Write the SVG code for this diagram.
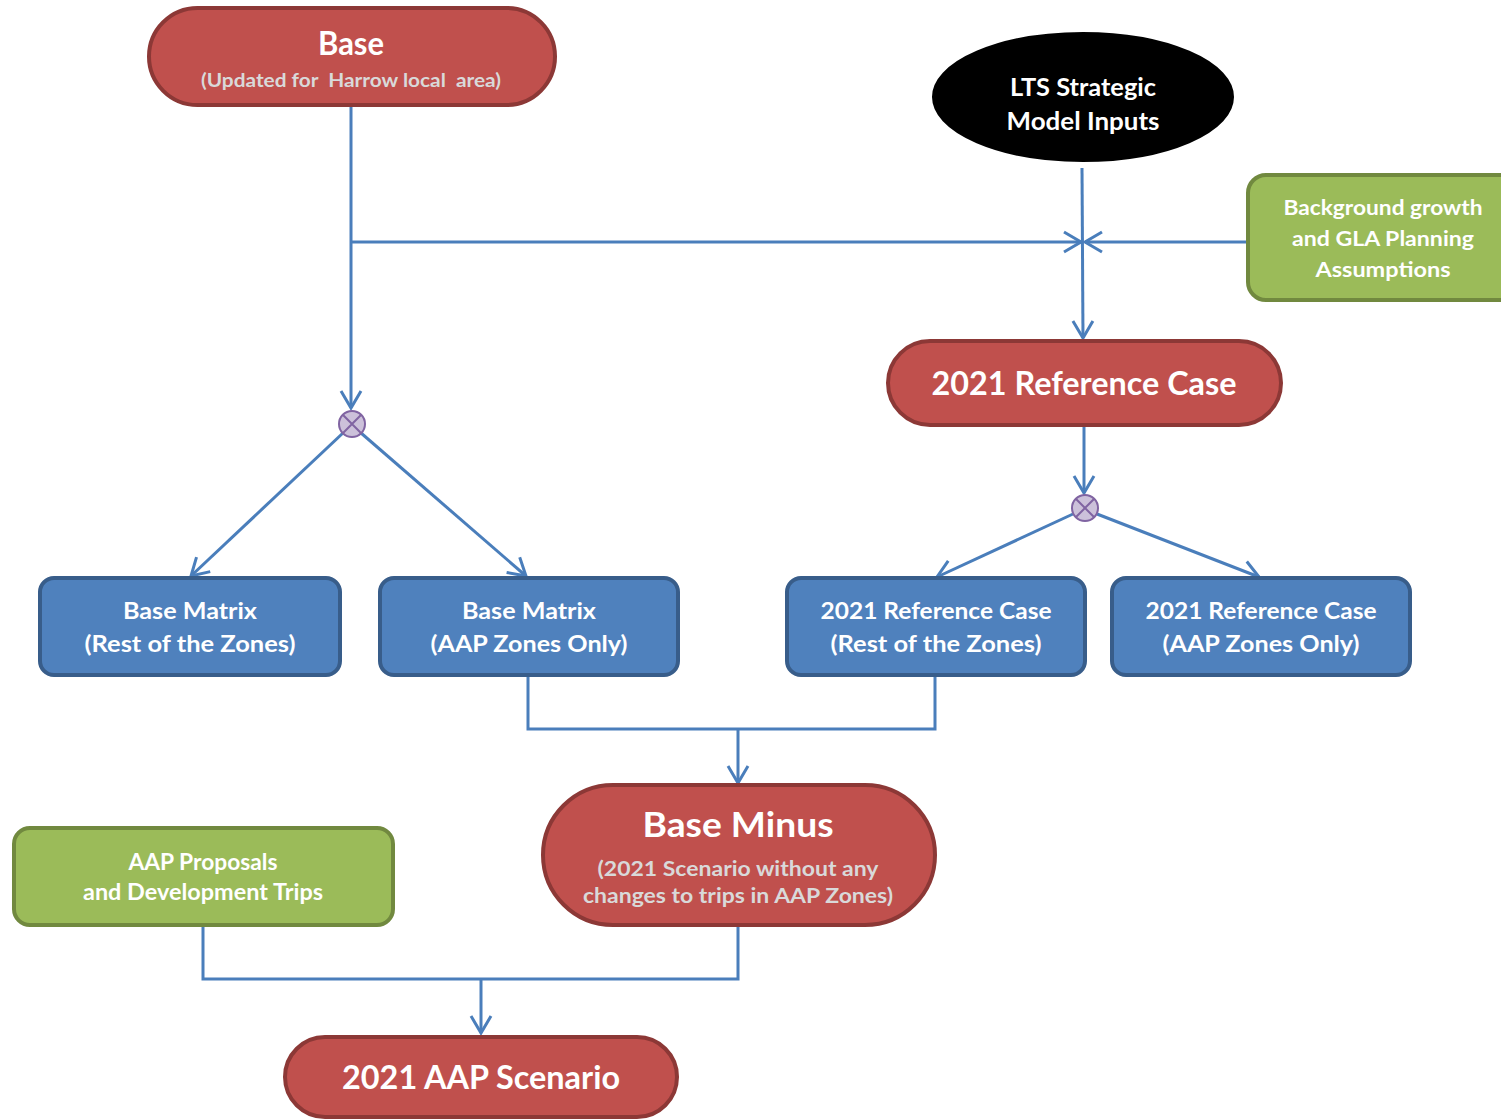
<svg xmlns="http://www.w3.org/2000/svg" width="1501" height="1119" viewBox="0 0 1501 1119">
<defs>
<marker id="arr" markerUnits="userSpaceOnUse" viewBox="-20 -12 22 24" refX="0" refY="0" markerWidth="22" markerHeight="24" orient="auto" overflow="visible">
<path d="M-17,-10 L0,0 L-17,10" fill="none" stroke="#4a7ebb" stroke-width="3" stroke-linejoin="miter"/>
</marker>
<style>
.red{fill:#c0504d;stroke:#8c3836;stroke-width:4}
.blue{fill:#4f81bd;stroke:#385d8a;stroke-width:4}
.green{fill:#9bbb59;stroke:#71893f;stroke-width:4}
.blk{fill:#000;stroke:#000;stroke-width:2}
.circ{fill:#ccc1da;stroke:#8064a2;stroke-width:2}
.x{stroke:#8064a2;stroke-width:2}
.c{fill:none;stroke:#4a7ebb;stroke-width:3}
text{font-family:Lato,"Open Sans","Liberation Sans",sans-serif;font-weight:bold;text-anchor:middle;fill:#fff}
.sub{fill:#d9d9d9}
</style>
</defs>
<g id="connectors">
<path class="c" d="M351 107 V408" marker-end="url(#arr)"/>
<path class="c" d="M351 242 H1081" marker-end="url(#arr)"/>
<path class="c" d="M1082 168 L1083 338" marker-end="url(#arr)"/>
<path class="c" d="M1247 242 H1085" marker-end="url(#arr)"/>
<path class="c" d="M1084 427 V493" marker-end="url(#arr)"/>
<path class="c" d="M343 433 L191 576" marker-end="url(#arr)"/>
<path class="c" d="M361 433 L526 576" marker-end="url(#arr)"/>
<path class="c" d="M1073 514 L937 577" marker-end="url(#arr)"/>
<path class="c" d="M1097 514 L1259 577" marker-end="url(#arr)"/>
<path class="c" d="M528 676 V729 H935 V676"/>
<path class="c" d="M738 729 V783" marker-end="url(#arr)"/>
<path class="c" d="M203 926 V979 H738 V927"/>
<path class="c" d="M481 979 V1033" marker-end="url(#arr)"/>
</g>
<g id="base">
<rect class="red" x="149" y="8" width="406" height="97" rx="48.5"/>
<text x="351" y="55" font-size="32" textLength="66" lengthAdjust="spacingAndGlyphs">Base</text>
<text class="sub" x="351" y="87" font-size="18.5" textLength="300" lengthAdjust="spacingAndGlyphs" style="white-space:pre">(Updated for  Harrow local  area)</text>
</g>
<g id="lts">
<ellipse class="blk" cx="1083" cy="97" rx="150" ry="64"/>
<text x="1083" y="96" font-size="25" textLength="146" lengthAdjust="spacingAndGlyphs">LTS Strategic</text>
<text x="1083" y="130" font-size="25" textLength="153" lengthAdjust="spacingAndGlyphs">Model Inputs</text>
</g>
<g id="background">
<rect class="green" x="1248" y="175" width="280" height="125" rx="18"/>
<text x="1383" y="215" font-size="21" textLength="199" lengthAdjust="spacingAndGlyphs">Background growth</text>
<text x="1383" y="246" font-size="21" textLength="182" lengthAdjust="spacingAndGlyphs">and GLA Planning</text>
<text x="1383" y="277" font-size="21" textLength="135" lengthAdjust="spacingAndGlyphs">Assumptions</text>
</g>
<g id="refcase">
<rect class="red" x="888" y="341" width="393" height="84" rx="42"/>
<text x="1084" y="395" font-size="32" textLength="305" lengthAdjust="spacingAndGlyphs">2021 Reference Case</text>
</g>
<g id="split1">
<circle class="circ" cx="352" cy="424" r="13"/>
<path class="x" d="M342.8 414.8 L361.2 433.2 M361.2 414.8 L342.8 433.2"/>
</g>
<g id="split2">
<circle class="circ" cx="1085" cy="508" r="13"/>
<path class="x" d="M1075.8 498.8 L1094.2 517.2 M1094.2 498.8 L1075.8 517.2"/>
</g>
<g id="bm-rest">
<rect class="blue" x="40" y="578" width="300" height="97" rx="14"/>
<text x="190" y="619" font-size="23" textLength="134" lengthAdjust="spacingAndGlyphs">Base Matrix</text>
<text x="190" y="652" font-size="23" textLength="211" lengthAdjust="spacingAndGlyphs">(Rest of the Zones)</text>
</g>
<g id="bm-aap">
<rect class="blue" x="380" y="578" width="298" height="97" rx="14"/>
<text x="529" y="619" font-size="23" textLength="134" lengthAdjust="spacingAndGlyphs">Base Matrix</text>
<text x="529" y="652" font-size="23" textLength="197" lengthAdjust="spacingAndGlyphs">(AAP Zones Only)</text>
</g>
<g id="rc-rest">
<rect class="blue" x="787" y="578" width="298" height="97" rx="14"/>
<text x="936" y="619" font-size="23" textLength="231" lengthAdjust="spacingAndGlyphs">2021 Reference Case</text>
<text x="936" y="652" font-size="23" textLength="211" lengthAdjust="spacingAndGlyphs">(Rest of the Zones)</text>
</g>
<g id="rc-aap">
<rect class="blue" x="1112" y="578" width="298" height="97" rx="14"/>
<text x="1261" y="619" font-size="23" textLength="231" lengthAdjust="spacingAndGlyphs">2021 Reference Case</text>
<text x="1261" y="652" font-size="23" textLength="197" lengthAdjust="spacingAndGlyphs">(AAP Zones Only)</text>
</g>
<g id="baseminus">
<rect class="red" x="543" y="785" width="392" height="140" rx="70"/>
<text x="738" y="837" font-size="34" textLength="191" lengthAdjust="spacingAndGlyphs">Base Minus</text>
<text class="sub" x="738" y="876" font-size="21" textLength="281" lengthAdjust="spacingAndGlyphs">(2021 Scenario without any</text>
<text class="sub" x="738" y="903" font-size="21" textLength="310" lengthAdjust="spacingAndGlyphs">changes to trips in AAP Zones)</text>
</g>
<g id="aapprop">
<rect class="green" x="14" y="828" width="379" height="97" rx="16"/>
<text x="203" y="870" font-size="23" textLength="149" lengthAdjust="spacingAndGlyphs">AAP Proposals</text>
<text x="203" y="900" font-size="23" textLength="240" lengthAdjust="spacingAndGlyphs">and Development Trips</text>
</g>
<g id="aapscenario">
<rect class="red" x="285" y="1037" width="392" height="80" rx="40"/>
<text x="481" y="1089" font-size="32" textLength="278" lengthAdjust="spacingAndGlyphs">2021 AAP Scenario</text>
</g>
</svg>
